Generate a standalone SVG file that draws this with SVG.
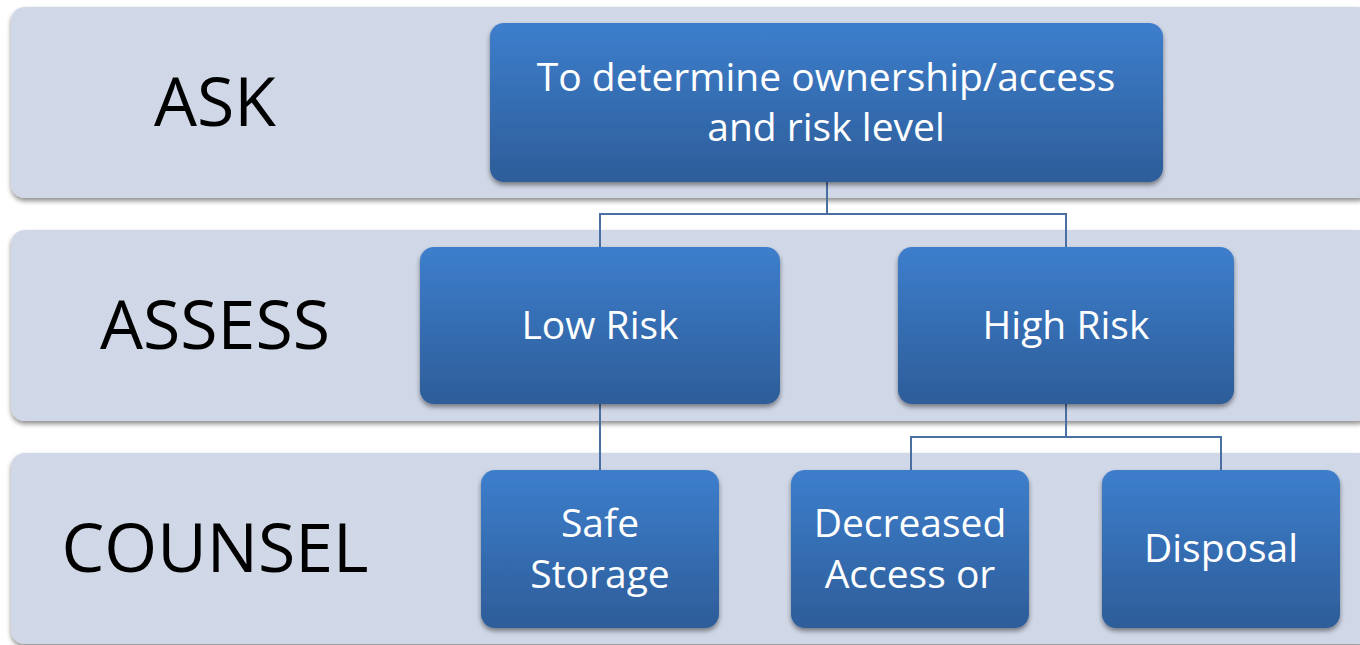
<svg xmlns="http://www.w3.org/2000/svg" width="1360" height="645" viewBox="0 0 1360 645">
<defs>
<linearGradient id="g" x1="0" y1="0" x2="0" y2="1">
<stop offset="0" stop-color="#3d7ecc"/>
<stop offset="1" stop-color="#2d5d99"/>
</linearGradient>
<filter id="sh" x="-10%" y="-10%" width="120%" height="130%">
<feGaussianBlur in="SourceAlpha" stdDeviation="2.5"/>
<feOffset dx="0" dy="3" result="b"/>
<feComponentTransfer><feFuncA type="linear" slope="0.45"/></feComponentTransfer>
<feMerge><feMergeNode/><feMergeNode in="SourceGraphic"/></feMerge>
</filter>
</defs>
<style>
.band{fill:#d0d7e6;filter:url(#sh)}
.node{fill:url(#g);filter:url(#sh)}
.lbl{font-family:"Open Sans","Liberation Sans",sans-serif;font-size:68px;fill:#000;text-anchor:middle}
.t{font-family:"Open Sans","Liberation Sans",sans-serif;font-size:39px;fill:#fff;text-anchor:middle}
.c{fill:none;stroke:#4a70a3;stroke-width:2}
</style>
<rect width="1360" height="645" fill="#fff"/>
<g id="band-ask"><rect class="band" x="11" y="7" width="1360" height="191" rx="14"/><text class="lbl" x="215" y="126">ASK</text></g>
<g id="band-assess"><rect class="band" x="11" y="230" width="1360" height="191" rx="14"/><text class="lbl" x="215" y="349">ASSESS</text></g>
<g id="band-counsel"><rect class="band" x="11" y="453" width="1360" height="191" rx="14"/><text class="lbl" x="215" y="572">COUNSEL</text></g>
<g id="connectors">
<path class="c" d="M827 182V214M600 247V214H1066V247"/>
<path class="c" d="M600 404V470"/>
<path class="c" d="M1066 404V437M911 470V437H1221V470"/>
</g>
<g id="n-top"><rect class="node" x="490" y="23" width="673" height="159" rx="14"/><text class="t" x="826" y="91">To determine ownership/access</text><text class="t" x="826" y="141">and risk level</text></g>
<g id="n-low"><rect class="node" x="420" y="247" width="360" height="157" rx="14"/><text class="t" x="600" y="339">Low Risk</text></g>
<g id="n-high"><rect class="node" x="898" y="247" width="336" height="157" rx="14"/><text class="t" x="1066" y="339">High Risk</text></g>
<g id="n-safe"><rect class="node" x="481" y="470" width="238" height="158" rx="14"/><text class="t" x="600" y="537">Safe</text><text class="t" x="600" y="588">Storage</text></g>
<g id="n-decr"><rect class="node" x="791" y="470" width="238" height="158" rx="14"/><text class="t" x="910" y="537">Decreased</text><text class="t" x="910" y="588">Access or</text></g>
<g id="n-disp"><rect class="node" x="1102" y="470" width="238" height="158" rx="14"/><text class="t" x="1221" y="562">Disposal</text></g>
</svg>
